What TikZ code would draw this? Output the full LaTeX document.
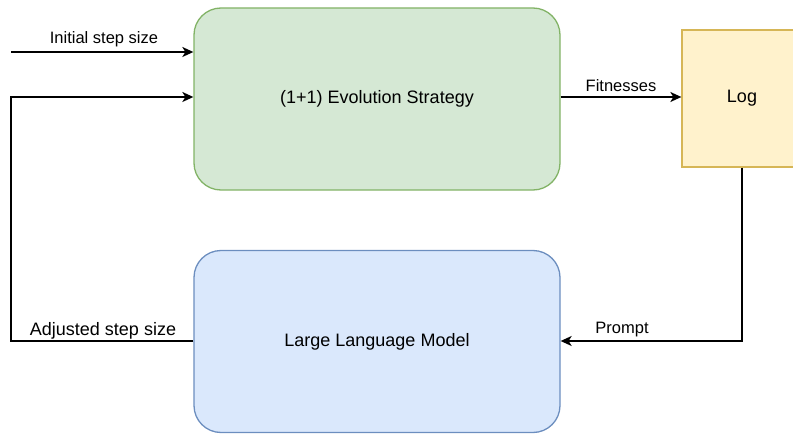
\documentclass[tikz,border=0pt]{standalone}
\usepackage{fontspec}
\setmainfont{Liberation Sans}
\usetikzlibrary{arrows.meta}
\definecolor{gfill}{HTML}{D5E8D4}\definecolor{gdraw}{HTML}{82B366}
\definecolor{bfill}{HTML}{DAE8FC}\definecolor{bdraw}{HTML}{6C8EBF}
\definecolor{yfill}{HTML}{FFF2CC}\definecolor{ydraw}{HTML}{D6B656}
\begin{document}
\begin{tikzpicture}[x=1pt,y=-1pt,
  box/.style={draw,line width=1.3pt,rounded corners=27pt,minimum width=366pt,minimum height=182pt,font=\fontsize{18}{21}\selectfont,inner sep=0pt},
  logbox/.style={draw=ydraw,fill=yfill,line width=1.3pt,minimum width=120pt,minimum height=137pt,font=\fontsize{18}{21}\selectfont,inner sep=0pt},
  conn/.style={draw,line width=1.5pt,-{Stealth[length=11pt,width=10pt,inset=3pt]}},
  lbl/.style={font=\fontsize{16.5}{19}\selectfont,inner sep=0pt}]
\useasboundingbox (0,0) rectangle (793,436);
\begin{scope}
\clip (0,0) rectangle (793,436);
\node[box,draw=gdraw,fill=gfill] (es) at (377,99) {(1+1) Evolution Strategy};
\node[box,draw=bdraw,fill=bfill] (llm) at (377,341.5) {Large Language Model};
\node[logbox] (log) at (742,98.5) {Log};
\coordinate (start) at (11,52);
\coordinate (lc) at (11,341);
\coordinate (tc) at (11,97);
\coordinate (rc) at (742,341);
\draw[conn] (start) -- (es.west |- start);
\draw[conn] (llm.west |- lc) -- (lc) -- (tc) -- (es.west |- tc);
\draw[conn] (es.east |- 0,97) -- (log.west |- 0,97);
\draw[conn] (log.south) -- (rc) -- (llm.east |- rc);
\node[lbl] (l1) at (104,39) {Initial step size};
\node[lbl,font=\fontsize{18}{21}\selectfont] (l2) at (103,331) {Adjusted step size};
\node[lbl] (l3) at (621,86) {Fitnesses};
\node[lbl] (l4) at (622,330) {Prompt};
\end{scope}
\end{tikzpicture}
\end{document}
